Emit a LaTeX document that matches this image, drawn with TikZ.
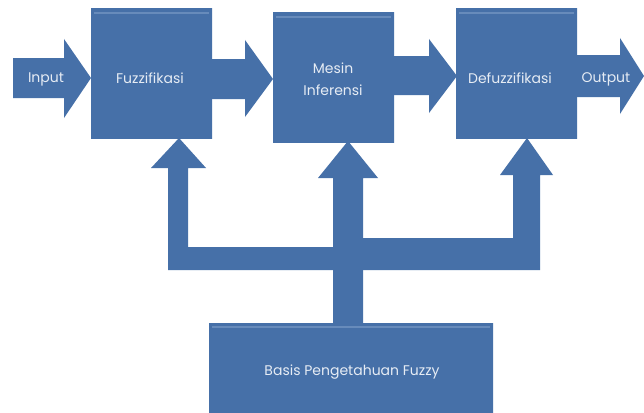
\documentclass[tikz,border=0pt]{standalone}
\usepackage{fontspec}
\setmainfont{Poppins}
\definecolor{boxdark}{HTML}{4670A8}
\definecolor{boxmid}{HTML}{5883BB}
\definecolor{boxlight}{HTML}{7E9DC8}
\definecolor{labelcol}{HTML}{E6ECF4}
\begin{document}
\begin{tikzpicture}[x=1pt,y=-1pt,
  blockfill/.style={left color=boxdark,middle color=boxmid,right color=boxdark,draw=none},
  stage/.style={blockfill,rectangle,minimum width=121pt,minimum height=129pt,inner sep=0pt},
  blockarrow/.style={fill=boxdark,draw=none},
  label/.style={text=labelcol,font=\fontsize{14}{22}\selectfont,align=center},
  rim/.style={draw=boxlight,line width=1.5pt,opacity=0.6}]
\useasboundingbox (0,0) rectangle (644,412);
\fill[white] (0,0) rectangle (644,412);

% horizontal block arrows along the main chain
\path[blockarrow] (13,58) -- (64,58) -- (64,39) -- (91,78) -- (64,118) -- (64,98) -- (13,98) -- cycle;
\path[blockarrow] (210,59) -- (245,59) -- (245,40) -- (273,79) -- (245,117) -- (245,99) -- (210,99) -- cycle;
\path[blockarrow] (392,56) -- (429,56) -- (429,39) -- (457,76) -- (429,113) -- (429,95) -- (392,95) -- cycle;
\path[blockarrow] (575,55) -- (620,55) -- (620,38) -- (644,76) -- (620,114) -- (620,97) -- (575,97) -- cycle;

% branching arrows from the knowledge base
\path[blockarrow] (348,270) -- (168,270) -- (168,168) -- (151,168) -- (179,138) -- (206,168) -- (188,168) -- (188,247) -- (348,247) -- cycle;
\path[blockarrow] (348,270) -- (540,270) -- (540,175) -- (553,175) -- (527,138) -- (500,175) -- (513,175) -- (513,238) -- (348,238) -- cycle;
\path[blockarrow] (333,326) -- (333,178) -- (318,178) -- (348,141) -- (378,178) -- (363,178) -- (363,326) -- cycle;

% processing stages
\node[stage] (fuz) at (151.5,73.5) {};
\node[stage] (mes) at (333.5,77.5) {};
\node[stage] (def) at (516.5,73.5) {};
\node[blockfill,rectangle,minimum width=284pt,minimum height=100pt,inner sep=0pt] (kb) at (351,373) {};

\foreach \n in {fuz,mes,def,kb}
  \draw[rim] ([xshift=3pt,yshift=-4pt]\n.north west) -- ([xshift=-3pt,yshift=-4pt]\n.north east);

% labels
\node[label] (tin) at (46,79) {Input};
\node[label] at (150,78) {Fuzzifikasi};
\node[label] at (333,79) {Mesin\\Inferensi};
\node[label] at (510,78) {Defuzzifikasi};
\node[label] (tout) at (606,79) {Output};
\node[label] at (352,372) {Basis Pengetahuan Fuzzy};
\end{tikzpicture}
\end{document}
